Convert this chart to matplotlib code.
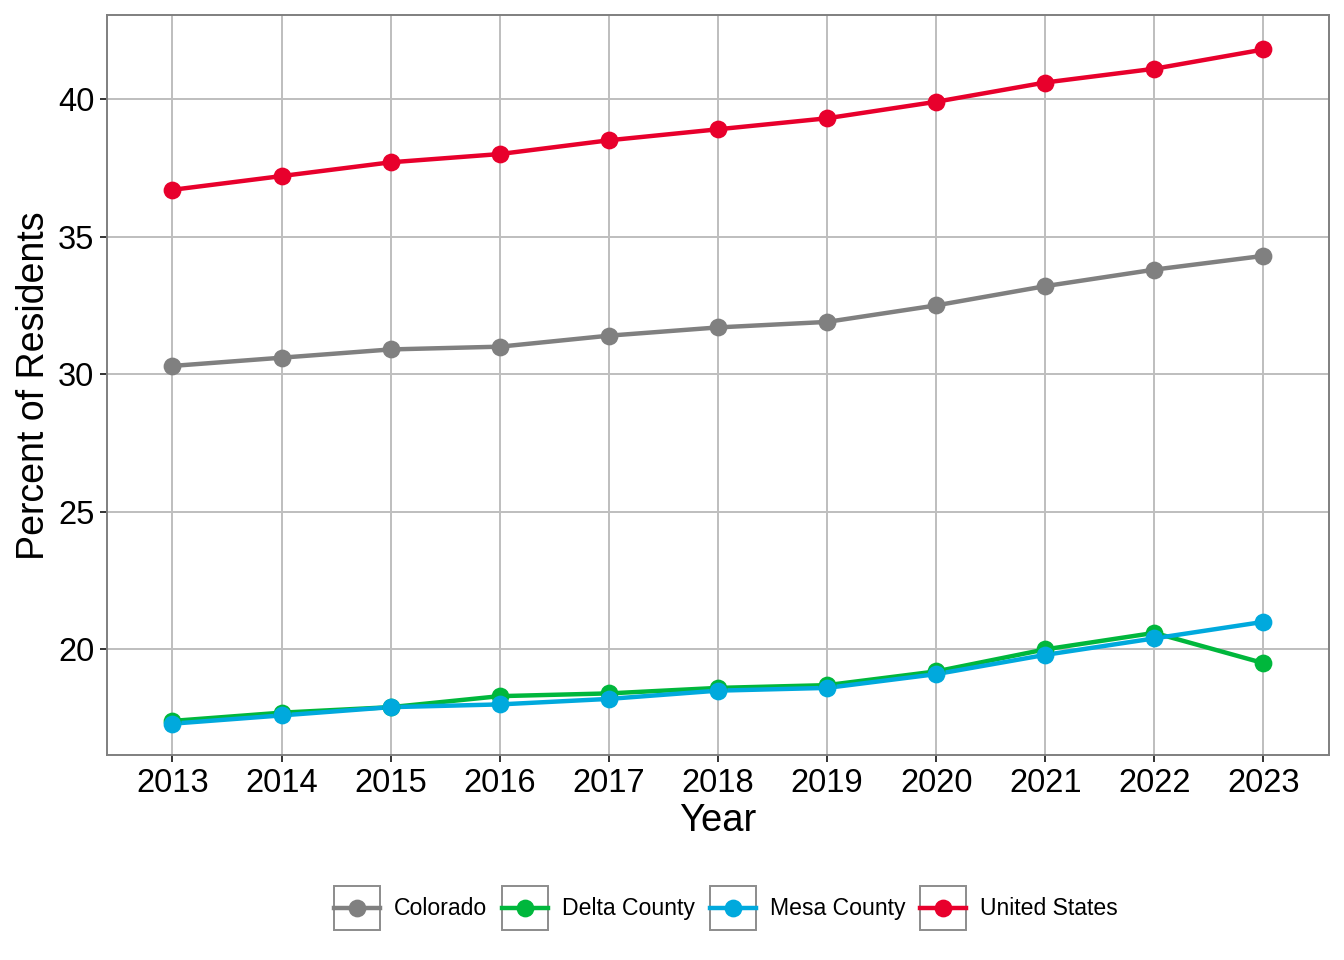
#!/usr/bin/env python3

"""Percent of residents by year, four regions."""

import matplotlib
matplotlib.use('Agg')
import matplotlib.pyplot as plt
from matplotlib.legend_handler import HandlerLine2D
from matplotlib.lines import Line2D
from matplotlib.patches import Rectangle

YEARS = [2013, 2014, 2015, 2016, 2017, 2018, 2019, 2020, 2021, 2022, 2023]

COLORADO = [30.3, 30.6, 30.9, 31.0, 31.4, 31.7, 31.9, 32.5, 33.2, 33.8, 34.3]
DELTA = [17.4, 17.7, 17.9, 18.3, 18.4, 18.6, 18.7, 19.2, 20.0, 20.6, 19.5]
MESA = [17.3, 17.6, 17.9, 18.0, 18.2, 18.5, 18.6, 19.1, 19.8, 20.4, 21.0]
US = [36.7, 37.2, 37.7, 38.0, 38.5, 38.9, 39.3, 39.9, 40.6, 41.1, 41.8]

SERIES = [
  ("Colorado", COLORADO, "#808080"),
  ("Delta County", DELTA, "#00B73C"),
  ("Mesa County", MESA, "#00A9DD"),
  ("United States", US, "#E8002C"),
]


class BoxedLineHandler(HandlerLine2D):
  """Legend key with a grey box around it, ggplot style."""

  def create_artists(self, legend, orig_handle, xdescent, ydescent,
                     width, height, fontsize, trans):
    arts = super().create_artists(legend, orig_handle, xdescent, ydescent,
                                  width, height, fontsize, trans)
    pad = width * 0.09
    y_mid = height / 2 - ydescent
    for a in arts:
      n = len(a.get_xdata())
      if n == 2:
        a.set_xdata([-xdescent + pad, -xdescent + width - pad])
      a.set_ydata([y_mid] * n)
    box = Rectangle((-xdescent, -ydescent), width, height,
                    facecolor='white', edgecolor='#8c8c8c', linewidth=1.4,
                    transform=trans)
    return [box] + arts


def main():
  plt.rcParams['font.family'] = ['Liberation Sans', 'DejaVu Sans']
  fig = plt.figure(figsize=(13.44, 9.6), dpi=100)
  ax = fig.add_axes([0.0796, 0.2135, 0.9092, 0.7705])

  for name, vals, col in SERIES:
    ax.plot(YEARS, vals, color=col, linewidth=3.2, zorder=3,
            solid_capstyle='butt')
  for name, vals, col in SERIES:
    ax.plot(YEARS, vals, linestyle='none', marker='o', markersize=12.8,
            color=col, markeredgewidth=0, zorder=4)

  # axes stuff
  ax.set_xlim(YEARS[0] - 0.6, YEARS[-1] + 0.6)
  ax.set_ylim(16.16, 43.04)
  ax.set_xticks(YEARS)
  ax.set_xticklabels([str(y) for y in YEARS])
  ax.set_yticks([20, 25, 30, 35, 40])
  ax.grid(True, color='#bebebe', linewidth=1.4, zorder=0)
  ax.set_axisbelow(True)
  for sp in ax.spines.values():
    sp.set_color('#7f7f7f')
    sp.set_linewidth(1.4)
  ax.tick_params(axis='both', labelsize=23.5, colors='#333333', length=5,
                 width=1.4, labelcolor='black', pad=4)
  ax.set_xlabel("Year", fontsize=27.5, labelpad=3)
  ax.set_ylabel("Percent of Residents", fontsize=27, labelpad=4.5)

  proxies = [Line2D([], [], color=c, linewidth=3.2, marker='o', markersize=12.8,
                    markeredgewidth=0) for _, _, c in SERIES]
  fig.legend(proxies, [n for n, _, _ in SERIES], loc='center',
             bbox_to_anchor=(0.54, 0.054), ncol=4, frameon=False,
             fontsize=16.6, handlelength=2.0, handleheight=2.55,
             handletextpad=0.6, columnspacing=0.65, numpoints=1,
             handler_map={Line2D: BoxedLineHandler()})

  fig.savefig('out.png', dpi=100)


if __name__ == "__main__":
  main()
